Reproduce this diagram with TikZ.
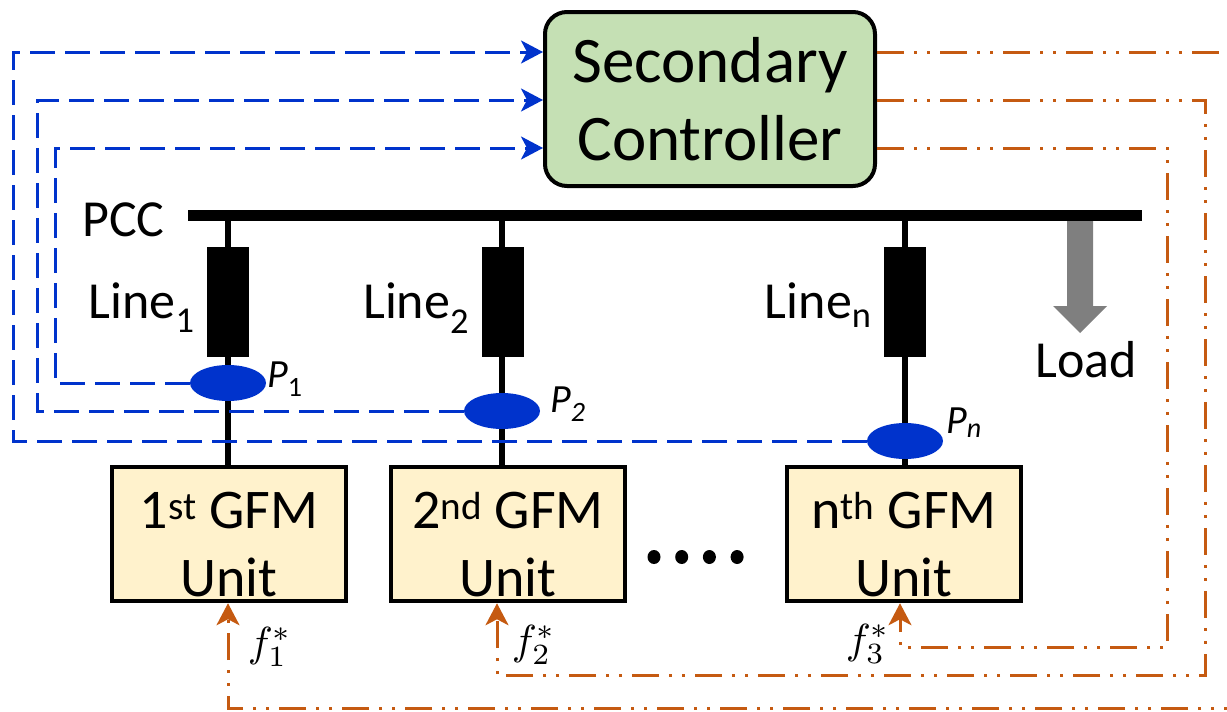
\documentclass[tikz,border=0pt]{standalone}
\usepackage{fontspec}
\setmainfont{Carlito}
\usetikzlibrary{arrows.meta,shapes.geometric,calc}
\definecolor{ctrlgreen}{HTML}{C5E0B4}
\definecolor{unitfill}{HTML}{FFF2CC}
\definecolor{measblue}{HTML}{0033CC}
\definecolor{reforange}{HTML}{C55A11}
\definecolor{loadgray}{HTML}{7F7F7F}

\begin{document}
\begin{tikzpicture}[x=1pt,y=-1pt,
  ctrlbox/.style={draw=black, line width=4pt, fill=ctrlgreen, rounded corners=22pt,
    minimum width=330pt, minimum height=174pt, align=center, inner sep=0pt,
    font=\fontsize{65}{78}\selectfont},
  unitbox/.style={draw=black, line width=4.5pt, fill=unitfill,
    minimum width=234pt, minimum height=134pt, align=center, inner sep=0pt,
    font=\fontsize{56}{68}\selectfont},
  linebox/.style={fill=black, minimum width=42pt, minimum height=110pt, inner sep=0pt},
  meter/.style={ellipse, fill=measblue, minimum width=76pt, minimum height=36pt, inner sep=0pt},
  lbl/.style={font=\fontsize{52}{60}\selectfont, inner sep=0pt},
  plbl/.style={font=\fontsize{40}{48}\selectfont\itshape, inner sep=0pt, anchor=base west},
  flbl/.style={font=\fontsize{10}{12}\selectfont, inner sep=0pt},
  wire/.style={line width=6pt},
  meas/.style={measblue, line width=3pt, dash pattern=on 25pt off 10pt,
    -{Stealth[length=22pt,width=23pt,inset=6pt]}},
  fref/.style={reforange, line width=3pt,
    dash pattern=on 27pt off 10pt on 3pt off 10pt on 3pt off 10pt,
    -{Stealth[length=22pt,width=23pt,inset=6pt]}}
]
\useasboundingbox (0,0) rectangle (1227,712);

% secondary controller
\node[ctrlbox] (ctrl) at (710,99) {Secondary\\Controller};

% signal rows at the controller
\coordinate (rowA) at (0,52);
\coordinate (rowB) at (0,100);
\coordinate (rowC) at (0,148);

% PCC bus
\coordinate (busL) at (188,215);
\coordinate (busR) at (1142,215);
\draw[line width=11pt] (busL) -- (busR);
\node[lbl, anchor=base west] (pcc) at (82,236) {PCC};

% feeder taps on the bus
\coordinate (tap1) at (228,215);
\coordinate (tap2) at (502,215);
\coordinate (tapn) at (905,215);

% GFM units (the strut drops the two lines a little below centre)
\node[unitbox] (u1) at (229,534) {\rule{0pt}{58pt}1\textsuperscript{st} GFM\\Unit};
\node[unitbox] (u2) at (508,534) {\rule{0pt}{58pt}2\textsuperscript{nd} GFM\\Unit};
\node[unitbox] (un) at (904,534) {\rule{0pt}{58pt}n\textsuperscript{th} GFM\\Unit};

% feeder wires
\draw[wire] (tap1) -- (tap1 |- u1.north);
\draw[wire] (tap2) -- (tap2 |- u2.north);
\draw[wire] (tapn) -- (tapn |- un.north);

% line impedances
\node[linebox] (l1) at (228,302) {};
\node[linebox] (l2) at (502.5,302) {};
\node[linebox] (ln) at (905,302) {};
\node[lbl, anchor=base east] (l1t) at ($(l1.west)+(-12,16)$) {Line\textsubscript{1}};
\node[lbl, anchor=base east] (l2t) at ($(l2.west)+(-12,16)$) {Line\textsubscript{2}};
\node[lbl, anchor=base east] (lnt) at ($(ln.west)+(-12,16)$) {Line\textsubscript{n}};

% load
\fill[loadgray] (1067,221) -- (1093,221) -- (1093,306) -- (1107,306) -- (1080,333)
  -- (1053,306) -- (1067,306) -- cycle;
\node[lbl, anchor=base] (load) at (1086,377) {Load};

% power measurements
\node[meter] (m1) at (228,383) {};
\node[meter] (m2) at (502,411) {};
\node[meter] (mn) at (905,441) {};
\node[plbl] (p1t) at (267,387) {P\upshape\textsubscript{1}};
\node[plbl] (p2t) at (550,412) {P\textsubscript{2}};
\node[plbl] (pnt) at (946,433) {P\textsubscript{n}};

% measurement feedback to the controller
\draw[meas] (mn.west) -| (13,52) -- (ctrl.west |- rowA);
\draw[meas] (m2.west) -| (37,100) -- (ctrl.west |- rowB);
\draw[meas] (m1.west) -| (55,148) -- (ctrl.west |- rowC);

% frequency references to the units
\coordinate (x1) at (228,0);
\coordinate (x2) at (497,0);
\coordinate (x3) at (900,0);
\draw[fref] (ctrl.east |- rowA) -- (1240,52) |- (228,708) -- (u1.south -| x1);
\draw[fref] (ctrl.east |- rowB) -- (1205,100) |- (497,675) -- (u2.south -| x2);
\draw[fref] (ctrl.east |- rowC) -- (1167,148) |- (900,647) -- (un.south -| x3);
\node[flbl] (f1t) at (270,647) {\scalebox{4.2}{$f_1^*$}};
\node[flbl] (f2t) at (534,645) {\scalebox{4.2}{$f_2^*$}};
\node[flbl] (f3t) at (868,644) {\scalebox{4.2}{$f_3^*$}};

% more units
\foreach \i in {0,1,2,3} {
  \fill ({654+27.7*\i},557) ellipse (6.5pt and 7pt);
}
\end{tikzpicture}
\end{document}
